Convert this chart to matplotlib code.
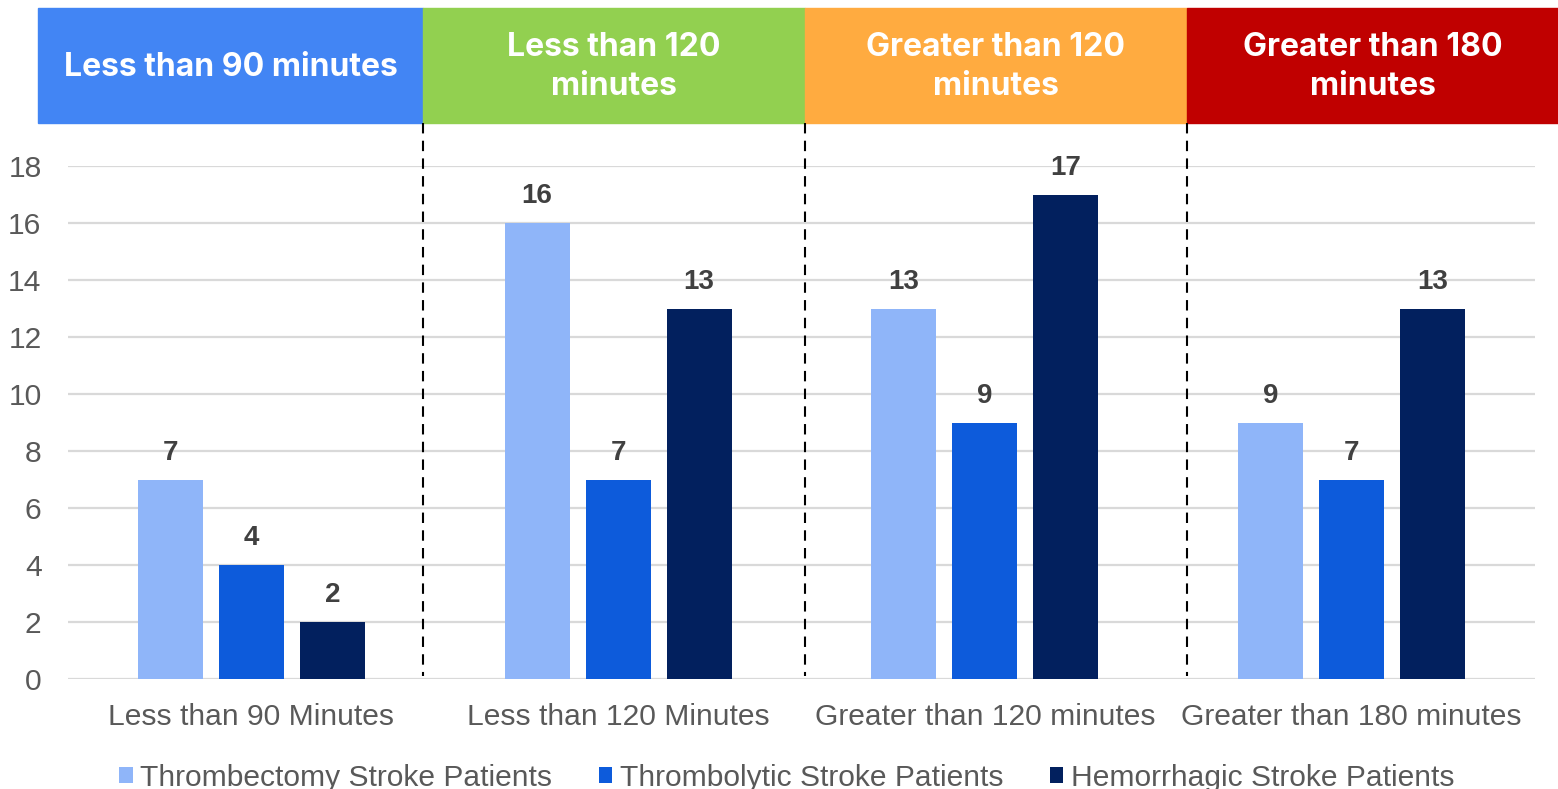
import matplotlib.pyplot as plt
import numpy as np

# Data
#---------------------------
categories = ["Less than 90 Minutes", "Less than 120 Minutes",
              "Greater than 120 minutes", "Greater than 180 minutes"]
series_names = ["Thrombectomy Stroke Patients", "Thrombolytic Stroke Patients",
                "Hemorrhagic Stroke Patients"]
thrombectomy = [7, 16, 13, 9]
thrombolytic = [4, 7, 9, 7]
hemorrhagic = [2, 13, 17, 13]
headers = ["Less than 90 minutes", "Less than 120\nminutes",
           "Greater than 120\nminutes", "Greater than 180\nminutes"]

# Styles
#---------------------------
bar_colors = ["#8FB5F9", "#0D5BDB", "#02205E"]
header_colors = ["#4285F4", "#92D050", "#FFAB40", "#C00000"]
header_edges = [38, 423, 805, 1187, 1558]   # pixel x of header box edges
W, H = 1558, 789

plt.rcParams['font.family'] = ['Liberation Sans', 'DejaVu Sans']

fig = plt.figure(figsize=(W / 100, H / 100), dpi=100)
ax = fig.add_axes([68 / W, 1 - 679 / H, (1535 - 68) / W, (679 - 166) / H])

x = np.arange(len(categories))
offset = 0.221
width = 0.177
for i, vals in enumerate([thrombectomy, thrombolytic, hemorrhagic]):
    bars = ax.bar(x + (i - 1) * offset, vals, width, color=bar_colors[i],
                  label=series_names[i], zorder=3)
    for b, v in zip(bars, vals):
        ax.annotate(str(v), (b.get_x() + b.get_width() / 2, v),
                    xytext=(0, 10), textcoords="offset points",
                    ha="center", va="bottom", fontsize=20, fontweight="bold",
                    color="#404040", annotation_clip=False)

ax.set_xlim(-0.5, 3.5)
ax.set_ylim(0, 18)
ax.set_yticks(range(0, 19, 2))
ax.set_xticks(x)
ax.set_xticklabels(categories)
ax.tick_params(axis="both", length=0, labelsize=21.6, colors="#595959")
ax.tick_params(axis="x", pad=17)
ax.tick_params(axis="y", pad=19)
ax.grid(axis="y", color="#D9D9D9", linewidth=1.6, zorder=0)
for s in ax.spines.values():
    s.set_visible(False)

# Header boxes
for i in range(4):
    x0 = header_edges[i] / W
    x1 = header_edges[i + 1] / W
    fig.patches.append(plt.Rectangle((x0, 1 - 123 / H), x1 - x0, 115 / H,
                                     transform=fig.transFigure,
                                     color=header_colors[i], zorder=1))
    fig.text((x0 + x1) / 2, 1 - 67 / H, headers[i], ha="center", va="center",
             color="white", fontsize=23, fontweight="bold", family="Inter",
             linespacing=1.35, zorder=2)

# Dashed separators
for e in header_edges[1:4]:
    fig.add_artist(plt.Line2D([e / W, e / W], [1 - 123 / H, 1 - 676 / H],
                              transform=fig.transFigure, color="black",
                              linewidth=1.5, dashes=(5, 3.5)))

fig.legend(loc="center", bbox_to_anchor=(0.505, 0.014), ncol=3, frameon=False,
           fontsize=21.6, labelcolor="#595959", handlelength=0.45,
           handleheight=0.45, handletextpad=0.25, columnspacing=1.55)

fig.savefig("out.png", dpi=100)
